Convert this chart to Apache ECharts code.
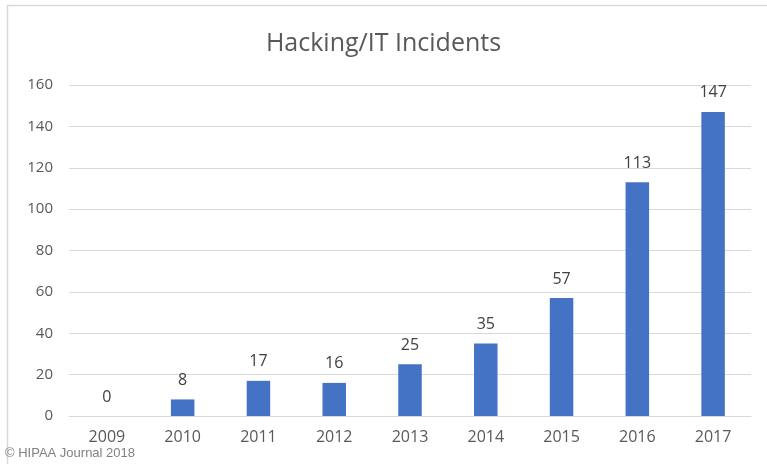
<!DOCTYPE html>
<html><head><meta charset="utf-8">
<script src="https://cdn.jsdelivr.net/npm/echarts@6/dist/echarts.min.js"></script>
<style>html,body{margin:0;padding:0;background:#fff}#c{width:767px;height:464px}</style>
</head><body><div id="c"></div>
<script>
const categories = ['2009','2010','2011','2012','2013','2014','2015','2016','2017'];
const values = [0, 8, 17, 16, 25, 35, 57, 113, 147];
const yTicks = [0, 20, 40, 60, 80, 100, 120, 140, 160];
const titleText = 'Hacking/IT Incidents';
const footerText = '© HIPAA Journal 2018';

const chart = echarts.init(document.getElementById('c'), null, {renderer: 'canvas'});
chart.setOption({
  animation: false,
  backgroundColor: '#fff',
  title: {
    text: titleText, left: 'center', top: 26,
    textStyle: {fontFamily: 'Open Sans', fontSize: 25, fontWeight: 'normal', color: '#595959'}
  },
  graphic: [
    {type: 'polyline', shape: {points: [[7.5, 470], [7.5, 5.5], [775, 5.5]]}, style: {fill: 'none', stroke: '#d9d9d9', lineWidth: 1.5}},
    {type: 'text', left: 5, top: 447, style: {text: footerText, font: '13px "Liberation Sans"', fill: '#808080'}}
  ],
  grid: {left: 69, right: 16, top: 85, bottom: 48},
  xAxis: {
    type: 'category', data: categories,
    axisLine: {lineStyle: {color: '#d9d9d9'}},
    axisTick: {show: false},
    axisLabel: {fontFamily: 'Open Sans', fontSize: 16, color: '#595959', margin: 13}
  },
  yAxis: {
    type: 'value', min: yTicks[0], max: yTicks[yTicks.length - 1], interval: 20,
    axisLine: {show: false}, axisTick: {show: false},
    splitLine: {lineStyle: {color: '#d9d9d9'}},
    axisLabel: {fontFamily: 'Open Sans', fontSize: 15, color: '#595959', margin: 16}
  },
  series: [{
    type: 'bar', data: values, barWidth: '31%',
    itemStyle: {color: '#4472C4'},
    label: {show: true, position: 'top', distance: 11, fontFamily: 'Open Sans', fontSize: 16, color: '#404040'}
  }]
});
</script></body></html>
